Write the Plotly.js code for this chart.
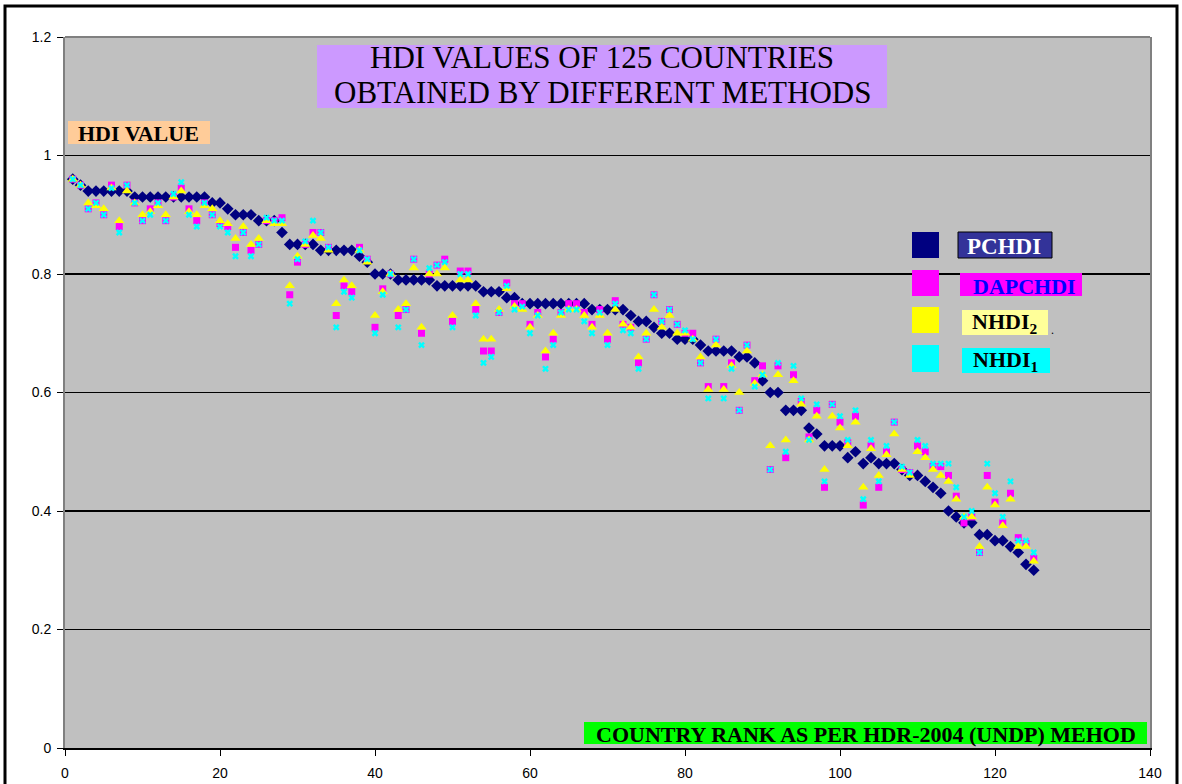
<!DOCTYPE html>
<html>
<head>
<meta charset="utf-8">
<script src="https://cdn.plot.ly/plotly-3.0.1.min.js"></script>
<style>
html,body{margin:0;padding:0;background:#fff;}
#chart{width:1182px;height:784px;}
</style>
</head>
<body>
<div id="chart"></div>
<script>
// Country rank (x)
const rank = [];
for (let i = 1; i <= 125; i++) rank.push(i);

const pchdi = [
0.96,0.95,0.94,0.94,0.94,0.94,0.94,0.94,0.93,0.93,
0.93,0.93,0.93,0.93,0.93,0.93,0.93,0.93,0.92,0.92,
0.91,0.90,0.90,0.90,0.89,0.89,0.89,0.87,0.85,0.85,
0.85,0.85,0.84,0.84,0.84,0.84,0.84,0.83,0.82,0.80,
0.80,0.80,0.79,0.79,0.79,0.79,0.79,0.78,0.78,0.78,
0.78,0.78,0.78,0.77,0.77,0.77,0.76,0.76,0.75,0.75,
0.75,0.75,0.75,0.75,0.75,0.75,0.75,0.74,0.74,0.74,
0.74,0.74,0.73,0.72,0.72,0.71,0.70,0.70,0.69,0.69,
0.69,0.68,0.67,0.67,0.67,0.67,0.66,0.66,0.65,0.62,
0.60,0.60,0.57,0.57,0.57,0.54,0.53,0.51,0.51,0.51,
0.49,0.50,0.48,0.49,0.48,0.48,0.48,0.47,0.46,0.46,
0.45,0.44,0.43,0.40,0.39,0.38,0.38,0.36,0.36,0.35,
0.35,0.34,0.33,0.31,0.30];

const dapchdi = [
0.96,0.95,0.91,0.92,0.90,0.95,0.88,0.95,0.92,0.89,
0.91,0.92,0.89,0.93,0.945,0.91,0.89,0.92,0.90,0.885,
0.88,0.845,0.87,0.84,0.85,0.89,0.89,0.895,0.765,0.82,
0.85,0.87,0.87,0.845,0.73,0.78,0.77,0.845,0.825,0.71,
0.775,0.80,0.73,0.74,0.825,0.70,0.80,0.815,0.825,0.72,
0.805,0.805,0.74,0.67,0.67,0.735,0.785,0.75,0.75,0.715,
0.735,0.66,0.69,0.735,0.75,0.75,0.735,0.715,0.74,0.69,
0.755,0.715,0.71,0.65,0.69,0.765,0.72,0.74,0.715,0.70,
0.70,0.65,0.61,0.69,0.61,0.65,0.57,0.68,0.62,0.645,
0.47,0.645,0.49,0.63,0.585,0.525,0.57,0.44,0.58,0.55,
0.515,0.56,0.41,0.51,0.44,0.50,0.55,0.47,0.465,0.51,
0.50,0.475,0.475,0.46,0.425,0.38,0.39,0.33,0.46,0.415,
0.38,0.43,0.355,0.345,0.32];

const nhdi2 = [
0.96,0.95,0.92,0.915,0.91,0.945,0.89,0.94,0.92,0.90,
0.905,0.915,0.90,0.93,0.94,0.905,0.90,0.915,0.91,0.89,
0.885,0.86,0.88,0.85,0.86,0.89,0.885,0.885,0.78,0.83,
0.85,0.865,0.86,0.84,0.75,0.79,0.78,0.84,0.82,0.73,
0.77,0.80,0.74,0.75,0.81,0.71,0.80,0.80,0.81,0.73,
0.79,0.79,0.75,0.69,0.69,0.74,0.775,0.745,0.74,0.71,
0.73,0.67,0.70,0.73,0.74,0.74,0.73,0.71,0.73,0.70,
0.74,0.715,0.71,0.66,0.70,0.74,0.71,0.73,0.70,0.70,
0.69,0.66,0.605,0.68,0.605,0.645,0.60,0.67,0.615,0.63,
0.51,0.63,0.52,0.62,0.58,0.52,0.56,0.47,0.56,0.54,
0.51,0.55,0.44,0.505,0.46,0.495,0.53,0.47,0.46,0.50,
0.49,0.47,0.46,0.45,0.42,0.39,0.39,0.34,0.44,0.41,
0.375,0.42,0.34,0.34,0.315];

const nhdi1 = [
0.96,0.95,0.91,0.92,0.90,0.945,0.87,0.95,0.92,0.89,
0.90,0.92,0.89,0.935,0.955,0.90,0.88,0.92,0.90,0.88,
0.87,0.83,0.87,0.83,0.85,0.895,0.89,0.89,0.75,0.825,
0.855,0.89,0.87,0.845,0.71,0.77,0.76,0.84,0.825,0.70,
0.765,0.80,0.71,0.74,0.825,0.68,0.81,0.815,0.82,0.71,
0.80,0.80,0.73,0.65,0.66,0.735,0.78,0.74,0.745,0.70,
0.73,0.64,0.68,0.735,0.74,0.74,0.72,0.70,0.735,0.68,
0.75,0.705,0.70,0.64,0.69,0.765,0.72,0.74,0.715,0.705,
0.69,0.65,0.59,0.69,0.59,0.64,0.57,0.68,0.61,0.63,
0.47,0.65,0.50,0.645,0.59,0.52,0.58,0.45,0.58,0.56,
0.52,0.57,0.42,0.52,0.45,0.51,0.55,0.475,0.465,0.52,
0.51,0.48,0.48,0.48,0.44,0.39,0.40,0.33,0.48,0.43,
0.39,0.45,0.35,0.35,0.33];

const yTickVals = [0, 0.2, 0.4, 0.6, 0.8, 1, 1.2];
const yTickText = ["0", "0.2", "0.4", "0.6", "0.8", "1", "1.2"];
const xTickVals = [0, 20, 40, 60, 80, 100, 120, 140];

const seriesNames = ["PCHDI", "DAPCHDI", "NHDI2", "NHDI1"];
const titleLines = ["HDI VALUES OF 125 COUNTRIES", "OBTAINED BY DIFFERENT METHODS"];
const yLabel = "HDI VALUE";
const xLabel = "COUNTRY RANK AS PER HDR-2004 (UNDP) MEHOD";

// pixel -> paper helpers (layout only)
const L = 65, R = 1150, T = 37, B = 748;
const px = x => (x - L) / (R - L);
const py = y => (B - y) / (B - T);

const traces = [
  {x: rank, y: pchdi, name: seriesNames[0], mode: 'markers', type: 'scatter',
   marker: {symbol: 'diamond', size: 9, color: '#000080'}},
  {x: rank, y: dapchdi, name: seriesNames[1], mode: 'markers', type: 'scatter',
   marker: {symbol: 'square', size: 7, color: '#ff00ff'}},
  {x: rank, y: nhdi2, name: seriesNames[2], mode: 'markers', type: 'scatter',
   marker: {symbol: 'triangle-up', size: 9, color: '#ffff00'}},
  {x: rank, y: nhdi1, name: seriesNames[3], mode: 'markers', type: 'scatter',
   marker: {symbol: 'x', size: 6, color: '#00ffff'}}
];

const serif = 'Liberation Serif, Times New Roman, serif';

function box(x0, y0, x1, y1, fill, line) {
  return {type: 'rect', xref: 'paper', yref: 'paper',
    x0: px(x0), x1: px(x1), y0: py(y1), y1: py(y0),
    fillcolor: fill, line: line || {width: 0}, layer: 'above'};
}
function txt(text, x, y, size, color, weight, xanchor) {
  return {text: text, xref: 'paper', yref: 'paper', x: px(x), y: py(y),
    xanchor: xanchor || 'center', yanchor: 'middle', showarrow: false,
    font: {family: serif, size: size, color: color || '#000', weight: weight || 'normal'}};
}

const shapes = [
  // outer frame
  {type: 'rect', xref: 'paper', yref: 'paper', x0: px(5), x1: px(1177), y0: py(800), y1: py(6),
   line: {color: '#000', width: 3}, fillcolor: 'rgba(0,0,0,0)', layer: 'above'},
  // plot top border
  {type: 'line', xref: 'paper', yref: 'paper', x0: 0, x1: 1, y0: 1, y1: 1,
   line: {color: '#808080', width: 2}, layer: 'above'},
  box(317, 45, 887, 108, '#cc99ff'),
  box(68, 121, 210, 144, '#ffcc99'),
  box(584, 722, 1147, 744, '#00ff00'),
  // legend swatches
  box(912, 232, 939, 258, '#000080'),
  box(912, 270, 939, 296, '#ff00ff'),
  box(912, 307, 939, 333, '#ffff00'),
  box(912, 345, 939, 372, '#00ffff'),
  // legend label boxes
  box(958, 232, 1052, 258, '#333399', {color: '#000', width: 1}),
  box(960, 273, 1082, 296, '#ff00ff'),
  box(962, 310, 1048, 335, '#ffff99'),
  box(962, 348, 1050, 373, '#00ffff')
];

const annotations = [
  txt(titleLines[0], 602, 58, 31),
  txt(titleLines[1], 602, 92, 31),
  txt(yLabel, 138, 133, 22, '#000', 'bold'),
  txt(xLabel, 866, 734, 22, '#000', 'bold'),
  txt(seriesNames[0], 1004, 246, 23, '#ffffff', 'bold'),
  txt(seriesNames[1], 1024, 286, 22, '#0000ff', 'bold'),
  txt('NHDI<sub>2</sub>', 1004, 323, 22, '#000', 'bold'),
  txt('NHDI<sub>1</sub>', 1005, 361, 22, '#000', 'bold'),
  txt('.', 1052, 330, 12, '#000')
];

const layout = {
  width: 1182, height: 784,
  margin: {l: L, r: 1182 - R, t: T, b: 784 - B, pad: 0},
  paper_bgcolor: '#ffffff',
  plot_bgcolor: '#c0c0c0',
  showlegend: false,
  font: {family: 'Liberation Sans, Arial, sans-serif', size: 14, color: '#000'},
  xaxis: {
    range: [0, 140], tickvals: xTickVals, ticks: 'outside', ticklen: 6, tickcolor: '#000',
    showgrid: false, zeroline: false, showline: true, linecolor: '#000', linewidth: 2,
    tickfont: {size: 14}, ticklabelstandoff: 5
  },
  yaxis: {
    range: [0, 1.2], tickvals: yTickVals, ticktext: yTickText, ticks: 'outside', ticklen: 6,
    tickcolor: '#000', showgrid: true, gridcolor: '#000', gridwidth: 1.5, zeroline: false,
    showline: true, linecolor: '#808080', linewidth: 2, mirror: true,
    tickfont: {size: 14}, ticklabelstandoff: 3
  },
  shapes: shapes,
  annotations: annotations
};

Plotly.newPlot('chart', traces, layout, {displayModeBar: false, staticPlot: true});
</script>
</body>
</html>
